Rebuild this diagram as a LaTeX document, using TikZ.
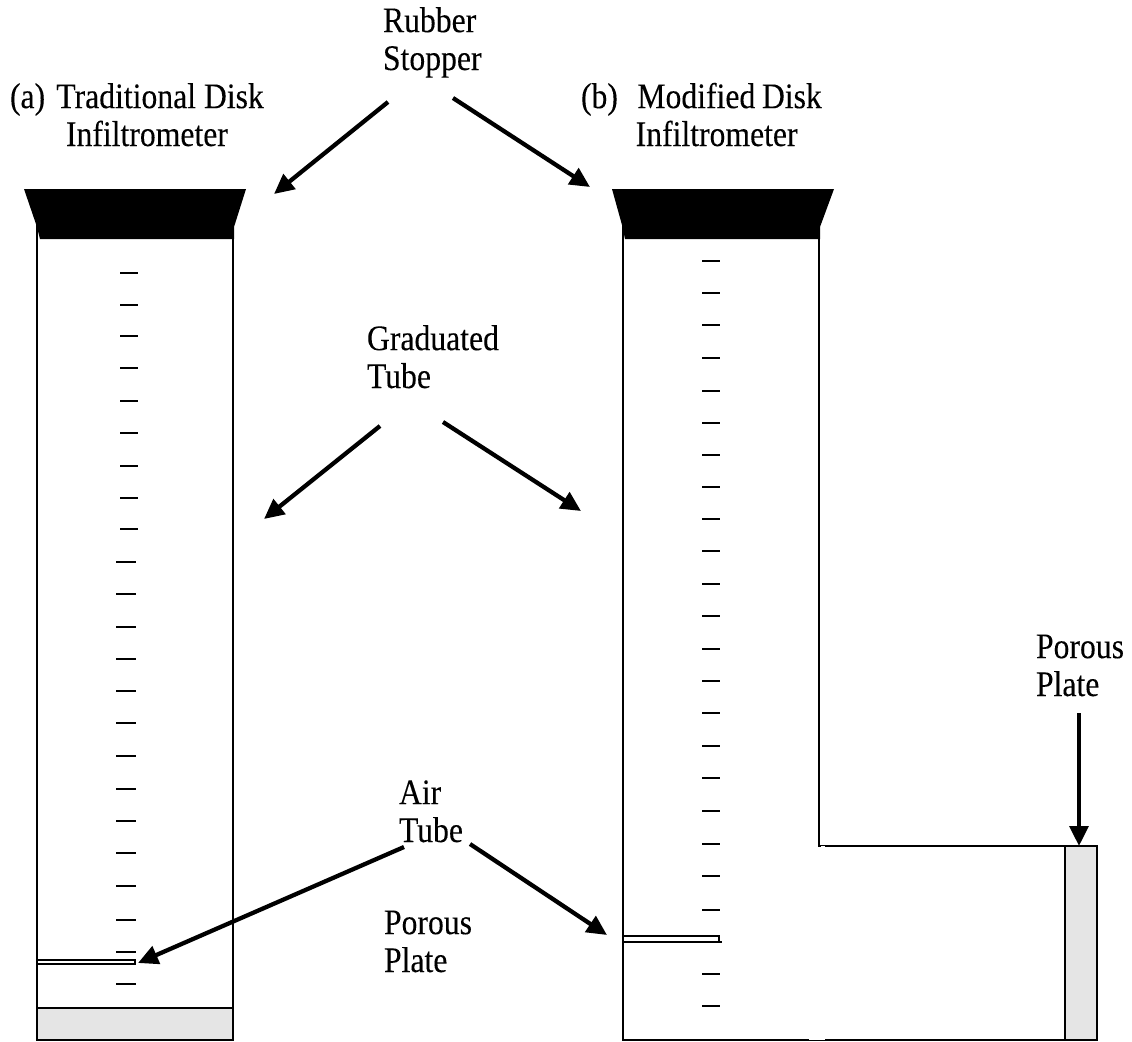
\documentclass[tikz,border=0pt]{standalone}
\usepackage{fontspec}
\setmainfont[FakeStretch=0.88,FakeBold=0.12]{Liberation Serif}
\usetikzlibrary{arrows.meta}
\tikzset{
  lab/.style={inner sep=0pt,outer sep=0pt,anchor=base west,align=left,font=\fontsize{27}{28.4}\selectfont},
  wall/.style={draw=black,line width=1.95pt,line cap=rect},
  tick/.style={draw=black,line width=1.5pt},
  plate/.style={wall,fill=black!10},
  stopper/.style={fill=black,draw=none},
  pointer/.style={draw=black,line width=3.2pt,-{Triangle[length=15pt,width=14pt]}},
}
\begin{document}
\begin{tikzpicture}[x=0.75pt,y=-0.75pt]
\useasboundingbox (0,0) rectangle (1132,1042);
% left instrument
\draw[plate] (37,1008) rectangle (233,1040);
\draw[wall] (37,1008) -- (37,225);
\draw[wall] (233,1008) -- (233,225);
\fill[stopper] (24,189) -- (246,189) -- (234,227) -- (234,239) -- (40,239) -- (37,227) -- cycle;
\foreach \y in {273,305,336,368,401,433,466,498,529} \draw[tick] (120,\y) -- (138,\y);
\foreach \y in {562,594,627,659,691,723,756,789,821,853,886,920,952,984} \draw[tick] (116,\y) -- (136,\y);
\draw[wall] (37,960) -- (135,960) -- (135,964) -- (37,964);
% right instrument
\fill[stopper] (612,189) -- (834,189) -- (820,227) -- (820,239) -- (625,239) -- (622,225) -- cycle;
\draw[wall] (623,225) -- (623,1040) -- (1097,1040) -- (1097,846) -- (819,846) -- (819,225);
\draw[plate] (1065,846) rectangle (1097,1040);
\fill[white] (809,1038.4) rectangle (825,1040);
\fill[white] (820.5,846) rectangle (825,847.6);
\foreach \y in {261,293,325,358,391,423,455,487,519,551,584,616,649,681,713,746,778,811,844,876,910,974,1006} \draw[tick] (702,\y) -- (720,\y);
\draw[wall] (623,936) -- (719,936) -- (719,942);
\draw[wall] (623,942) -- (721,942);
% labels
\node[lab] (rubber) at (383,70) {Rubber\\Stopper};
\node[lab] (tradA) at (10,146) {(a)\hspace{8.4pt}Traditional Disk\\\hspace{42pt}Infiltrometer};
\node[lab] (modB) at (581,146) {(b)\hspace{14.6pt}Modified\hspace{5pt}Disk\\\hspace{41pt}Infiltrometer};
\node[lab] (grad) at (367,388) {Graduated\\Tube};
\node[lab] (air) at (399,842) {Air\\Tube};
\node[lab] (plateA) at (384,972) {Porous\\Plate};
\node[lab] (plateB) at (1036,696) {Porous\\Plate};
% arrow ends
\coordinate (r1s) at (388,102); \coordinate (r1e) at (274,194);
\coordinate (r2s) at (453,98);  \coordinate (r2e) at (590,187);
\coordinate (g1s) at (380,426); \coordinate (g1e) at (264,519);
\coordinate (g2s) at (443,422); \coordinate (g2e) at (581,511);
\coordinate (a1s) at (404,847); \coordinate (a1e) at (138,963);
\coordinate (a2s) at (470,844); \coordinate (a2e) at (607,935);
\coordinate (p1s) at (1079,713); \coordinate (p1e) at (1079,846);
\foreach \s/\e in {r1s/r1e,r2s/r2e,g1s/g1e,g2s/g2e,a1s/a1e,a2s/a2e,p1s/p1e}
  \draw[pointer] (\s) -- (\e);
\end{tikzpicture}
\end{document}
